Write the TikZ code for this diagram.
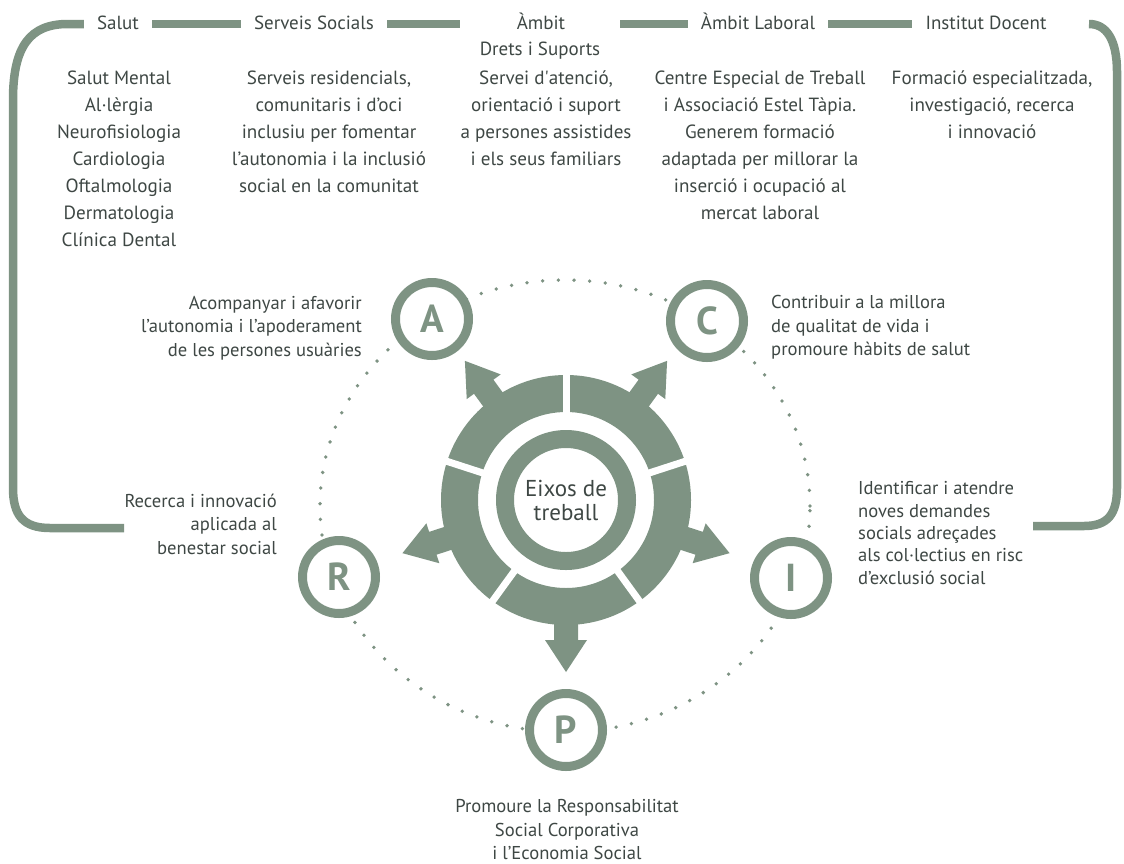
\documentclass[tikz,border=0pt]{standalone}
\usepackage{fontspec}
\setmainfont{PT Sans}
\usetikzlibrary{calc}
\definecolor{gg}{HTML}{7E9383}
\definecolor{tx}{HTML}{3E4744}
\begin{document}
\begin{tikzpicture}[x=1pt,y=-1pt,
 frame/.style={draw=gg, line width=8.5pt},
 hdr/.style={font=\fontsize{19}{26}\selectfont, text=tx, inner xsep=13pt, inner ysep=0pt, text height=13pt, text depth=3pt},
 body/.style={font=\fontsize{19.1}{27}\selectfont, text=tx, align=center, inner sep=0pt, anchor=north, execute at begin node=\rule{0pt}{16pt}},
 axis/.style={font=\fontsize{18.6}{23.5}\selectfont, text=tx, inner sep=0pt, execute at begin node=\rule{0pt}{15pt}},
 letter/.style={circle, draw=gg, line width=9pt, fill=white, minimum size=73pt, inner sep=0pt, text=gg, font=\fontsize{39}{39}\selectfont\bfseries},
 dots/.style={draw=gg, line width=3.8pt, line cap=round, dash pattern=on 0pt off 15.7pt},
 hubtxt/.style={font=\fontsize{23}{24}\selectfont, text=tx, align=center, inner sep=0pt}
]
\useasboundingbox (0,0) rectangle (1124,863);

% header labels
\node[hdr] (hSalut) at (118,24) {Salut};
\node[hdr] (hServ) at (314,24) {Serveis Socials};
\node[hdr] (hAmb) at (541,24) {Àmbit};
\node[hdr, inner xsep=20pt] (hAmbB) at (540,50) {Drets i Suports};
\node[hdr] (hLab) at (758,24) {Àmbit Laboral};
\node[hdr] (hDoc) at (986,24) {Institut Docent};

\coordinate (fTR) at (1089,24);
\coordinate (fBL) at (124,528);
\coordinate (fBR) at (1033,526);

% frame
\draw[frame] (hSalut.west |- 0,24) -- (68,24) .. controls (30,24) and (13,46) .. (13,100) -- (13,488) .. controls (13,515) and (23,528) .. (50,528) -- (fBL);
\draw[frame] (hSalut.east |- 0,24) -- (hServ.west |- 0,24);
\draw[frame] (hServ.east |- 0,24) -- (hAmbB.west |- 0,24);
\draw[frame] (hAmbB.east |- 0,24) -- (hLab.west |- 0,24);
\draw[frame] (hLab.east |- 0,24) -- (hDoc.west |- 0,24);
\draw[frame] (fTR) .. controls (1106,24) and (1117,39) .. (1117,72) -- (1117,488) .. controls (1117,514) and (1108,526) .. (1084,526) -- (fBR);

% body columns
\node[body] (bSalut) at (119,71) {Salut Mental\\Al·lèrgia\\Neurofisiologia\\Cardiologia\\Oftalmologia\\Dermatologia\\Clínica Dental};
\node[body] (bServ) at (329,71) {Serveis residencials,\\comunitaris i d’oci\\inclusiu per fomentar\\l’autonomia i la inclusió\\social en la comunitat};
\node[body] (bAmb) at (546,71) {Servei d\textquotesingle atenció,\\orientació i suport\\a persones assistides\\i els seus familiars};
\node[body] (bLab) at (760,71) {Centre Especial de Treball\\i Associació Estel Tàpia.\\Generem formació\\adaptada per millorar la\\inserció i ocupació al\\mercat laboral};
\node[body] (bDoc) at (992,71) {Formació especialitzada,\\investigació, recerca\\i innovació};

% hub
\coordinate (H) at (566,500);
\fill[gg, even odd rule] (H) circle[radius=125pt] (H) circle[radius=88pt];
\foreach \t in {54,126,198,270,342}{
 \fill[gg] ($(H)+(\t:110pt)+(\t+90:12pt)$) -- ($(H)+(\t:140pt)+(\t+90:12pt)$) -- ($(H)+(\t:140pt)+(\t+90:21pt)$) -- ($(H)+(\t:172pt)$) -- ($(H)+(\t:140pt)+(\t-90:21pt)$) -- ($(H)+(\t:140pt)+(\t-90:12pt)$) -- ($(H)+(\t:110pt)+(\t-90:12pt)$) -- cycle;
}
\foreach \t in {18,90,162,234,306}{
 \draw[white, line width=7pt] ($(H)+(\t:80pt)$) -- ($(H)+(\t:132pt)$);
}
\draw[gg, line width=18pt] (H) circle[radius=61pt];
\node[hubtxt] (hub) at (H) {Eixos de\\treball};

% dotted orbit and letter circles
\coordinate (cA) at (432,319);
\coordinate (cC) at (707,321);
\coordinate (cI) at (791,578);
\coordinate (cP) at (566,730);
\coordinate (cR) at (339,577);
\draw[dots] (565,506) ellipse[x radius=245pt, y radius=226pt];
\node[letter] (A) at (cA) {A};
\node[letter] (C) at (cC) {C};
\node[letter] (I) at (cI) {I};
\node[letter] (P) at (cP) {P};
\node[letter] (R) at (cR) {R};

% axis texts
\node[axis, anchor=north east, align=right] (tA) at (362,296) {Acompanyar i afavorir\\l’autonomia i l’apoderament\\de les persones usuàries};
\node[axis, anchor=north west, align=left] (tC) at (771,295.5) {Contribuir a la millora\\de qualitat de vida i\\promoure hàbits de salut};
\node[axis, anchor=north west, align=left, font=\fontsize{18.6}{22.3}\selectfont] (tI) at (858,481.5) {Identificar i atendre\\noves demandes\\socials adreçades\\als col·lectius en risc\\d’exclusió social};
\node[axis, anchor=north east, align=right] (tR) at (277,493.5) {Recerca i innovació\\aplicada al\\benestar social};
\node[axis, anchor=north, align=center] (tP) at (567,799.5) {Promoure la Responsabilitat\\Social Corporativa\\i l’Economia Social};
\end{tikzpicture}
\end{document}
